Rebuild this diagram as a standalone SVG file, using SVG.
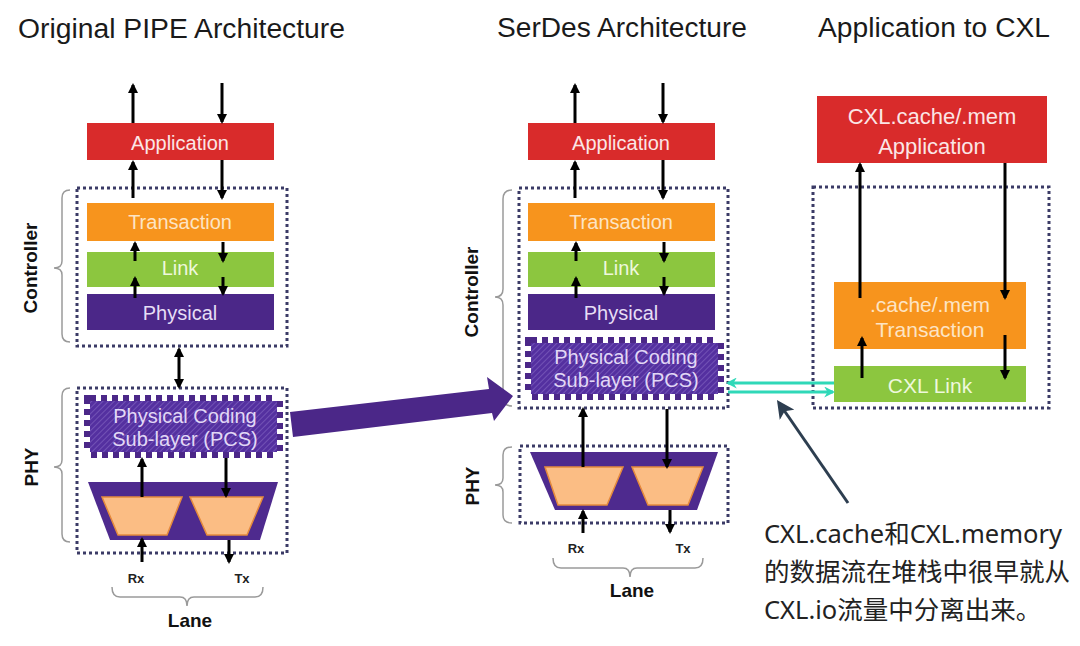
<svg xmlns="http://www.w3.org/2000/svg" width="1080" height="646" viewBox="0 0 1080 646">
<defs>
<style>
.title{font-family:"Liberation Sans",Arial,sans-serif;font-size:27px;fill:#1a1a1a}
.lbl{font-family:"Liberation Sans",Arial,sans-serif;font-size:20px;text-anchor:middle}
.side{font-family:"Liberation Sans",Arial,sans-serif;font-size:19px;font-weight:bold;fill:#111;text-anchor:middle}
.small{font-family:"Liberation Sans",Arial,sans-serif;font-size:13px;font-weight:bold;fill:#222;text-anchor:middle}
.note{font-family:"Noto Sans","Noto Sans CJK SC",sans-serif;font-size:25.5px;fill:#222}
.dot{fill:none;stroke:#3b3b66;stroke-width:3;stroke-dasharray:3 3}
.brace{fill:none;stroke:#9a9a9a;stroke-width:1.5}
.arr{stroke:#000;stroke-width:3;fill:none;marker-end:url(#ah)}
.red{fill:#d92b2b}
.org{fill:#f7941d}
.grn{fill:#8cc63f}
.pur{fill:#4b2788}
.teal{stroke:#2fd8b8;stroke-width:3;fill:none;marker-end:url(#th)}
.pcsEdge{fill:none;stroke:#4b2788;stroke-width:12;stroke-dasharray:6 5}
.pcsText{fill:#e2d8f6}
.trap{fill:#4e2a8e}
.peach{fill:#fbbd84;stroke:#e58a3c;stroke-width:1.5}
</style>
<marker id="ah" viewBox="0 0 10 10" refX="8" refY="5" markerWidth="10" markerHeight="10" markerUnits="userSpaceOnUse" orient="auto-start-reverse"><path d="M0,0 L10,5 L0,10 z" fill="#000"/></marker>
<marker id="th" viewBox="0 0 10 10" refX="8" refY="5" markerWidth="11" markerHeight="11" markerUnits="userSpaceOnUse" orient="auto"><path d="M0,0 L10,5 L0,10 L3,5 z" fill="#2fd8b8"/></marker>
<marker id="nh" viewBox="0 0 10 10" refX="8" refY="5" markerWidth="18" markerHeight="18" markerUnits="userSpaceOnUse" orient="auto"><path d="M0,0 L10,5 L0,10 L2.5,5 z" fill="#2d3e50"/></marker>
<pattern id="hatch" patternUnits="userSpaceOnUse" width="4" height="4" patternTransform="rotate(45)"><rect width="4" height="4" fill="#5430a0"/><line x1="0" y1="0" x2="0" y2="4" stroke="#8669c4" stroke-width="1.2"/></pattern>
</defs>
<rect width="1080" height="646" fill="#fff"/>

<g id="titles">
<text class="title" x="18" y="38" textLength="327" lengthAdjust="spacingAndGlyphs">Original PIPE Architecture</text>
<text class="title" x="497" y="37" textLength="250" lengthAdjust="spacingAndGlyphs">SerDes Architecture</text>
<text class="title" x="818" y="37" textLength="232" lengthAdjust="spacingAndGlyphs">Application to CXL</text>
</g>

<!-- LEFT COLUMN -->
<g id="left-controller-box"><rect class="dot" x="77" y="188" width="210" height="158"/></g>
<g id="left-phy-box"><rect class="dot" x="77" y="388" width="210" height="165"/></g>
<g id="left-application"><rect class="red" x="87" y="123" width="187" height="37"/><text class="lbl" x="180" y="150" fill="#fbe6e6">Application</text></g>
<g id="left-transaction"><rect class="org" x="87" y="203" width="187" height="38"/><text class="lbl" x="180" y="229" fill="#fde4c4">Transaction</text></g>
<g id="left-link"><rect class="grn" x="87" y="252" width="187" height="35"/><text class="lbl" x="180" y="275" fill="#eef8dc">Link</text></g>
<g id="left-physical"><rect class="pur" x="87" y="294" width="187" height="36"/><text class="lbl" x="180" y="320" fill="#e6def5">Physical</text></g>
<g id="left-pcs">
<rect class="pcsEdge" x="90" y="401" width="187" height="51"/>
<rect x="90" y="401" width="187" height="51" fill="url(#hatch)"/>
<text class="lbl pcsText" x="185" y="423">Physical Coding</text>
<text class="lbl pcsText" x="185" y="446">Sub-layer (PCS)</text>
</g>
<g id="left-serdes">
<polygon class="trap" points="88,482 278,482 260,540 110,540"/>
<polygon class="peach" points="102,497 182,497 167,535 118,535"/>
<polygon class="peach" points="190,497 263,497 247,535 207,535"/>
</g>
<g id="left-labels">
<text class="side" transform="translate(37,268) rotate(-90)">Controller</text>
<text class="side" transform="translate(38,467) rotate(-90)">PHY</text>
<text class="small" x="136" y="583">Rx</text>
<text class="small" x="242" y="583">Tx</text>
<text class="side" x="190" y="627">Lane</text>
<path class="brace" d="M70,190 Q62,190 62,198 L62,261 Q62,268 54,268 Q62,268 62,275 L62,334 Q62,342 70,342"/>
<path class="brace" d="M70,388 Q62,388 62,396 L62,460 Q62,467 54,467 Q62,467 62,474 L62,534 Q62,542 70,542"/>
<path class="brace" d="M112,587 Q112,597 120,597 L180,597 Q187,597 187,606 Q187,597 194,597 L255,597 Q263,597 263,587"/>
</g>

<!-- MIDDLE COLUMN -->
<g id="mid-controller-box"><rect class="dot" x="519" y="188" width="209" height="220"/></g>
<g id="mid-phy-box"><rect class="dot" x="520" y="446" width="208" height="77"/></g>
<g id="mid-application"><rect class="red" x="528" y="123" width="187" height="37"/><text class="lbl" x="621" y="150" fill="#fbe6e6">Application</text></g>
<g id="mid-transaction"><rect class="org" x="528" y="203" width="187" height="38"/><text class="lbl" x="621" y="229" fill="#fde4c4">Transaction</text></g>
<g id="mid-link"><rect class="grn" x="528" y="252" width="187" height="35"/><text class="lbl" x="621" y="275" fill="#eef8dc">Link</text></g>
<g id="mid-physical"><rect class="pur" x="528" y="294" width="187" height="36"/><text class="lbl" x="621" y="320" fill="#e6def5">Physical</text></g>
<g id="mid-pcs">
<rect class="pcsEdge" x="531" y="343" width="187" height="51"/>
<rect x="531" y="343" width="187" height="51" fill="url(#hatch)"/>
<text class="lbl pcsText" x="626" y="364">Physical Coding</text>
<text class="lbl pcsText" x="626" y="387">Sub-layer (PCS)</text>
</g>
<g id="mid-serdes">
<polygon class="trap" points="530,452 718,452 697,510 555,510"/>
<polygon class="peach" points="545,467 623,467 607,505 558,505"/>
<polygon class="peach" points="632,467 703,467 688,505 648,505"/>
</g>
<g id="mid-labels">
<text class="side" transform="translate(478,292) rotate(-90)">Controller</text>
<text class="side" transform="translate(479,486) rotate(-90)">PHY</text>
<text class="small" x="576" y="553">Rx</text>
<text class="small" x="683" y="553">Tx</text>
<text class="side" x="632" y="597">Lane</text>
<path class="brace" d="M512,190 Q503,190 503,199 L503,289 Q503,297 495,297 Q503,297 503,305 L503,397 Q503,406 512,406"/>
<path class="brace" d="M512,447 Q503,447 503,455 L503,478 Q503,485 495,485 Q503,485 503,492 L503,515 Q503,523 512,523"/>
<path class="brace" d="M553,558 Q553,568 561,568 L623,568 Q630,568 630,577 Q630,568 637,568 L695,568 Q703,568 703,558"/>
</g>

<!-- RIGHT COLUMN -->
<g id="cxl-box"><rect class="dot" x="813" y="187" width="236" height="221"/></g>
<g id="cxl-application"><rect class="red" x="817" y="96" width="230" height="67"/>
<text class="lbl" x="932" y="124" fill="#fbe6e6" style="font-size:22px">CXL.cache/.mem</text>
<text class="lbl" x="932" y="154" fill="#fbe6e6" style="font-size:22px">Application</text></g>
<g id="cxl-transaction"><rect class="org" x="834" y="282" width="192" height="67"/>
<text class="lbl" x="930" y="312" fill="#fde4c4" style="font-size:21px">.cache/.mem</text>
<text class="lbl" x="930" y="337" fill="#fde4c4" style="font-size:21px">Transaction</text></g>
<g id="cxl-link"><rect class="grn" x="834" y="366" width="192" height="36"/>
<text class="lbl" x="930" y="393" fill="#eef8dc" style="font-size:21px">CXL Link</text></g>

<g id="note">
<text class="note" x="764" y="543">CXL.cache和CXL.memory</text>
<text class="note" x="764" y="581">的数据流在堆栈中很早就从</text>
<text class="note" x="764" y="619">CXL.io流量中分离出来。</text>
</g>

<g id="connectors">
<line class="arr" x1="133" y1="123" x2="133" y2="85"/>
<line class="arr" x1="222" y1="83" x2="222" y2="122"/>
<line class="arr" x1="133" y1="198" x2="133" y2="162"/>
<line class="arr" x1="222" y1="160" x2="222" y2="198"/>
<line class="arr" x1="135" y1="261" x2="135" y2="243"/>
<line class="arr" x1="223" y1="242" x2="223" y2="261"/>
<line class="arr" x1="135" y1="298" x2="135" y2="278"/>
<line class="arr" x1="223" y1="277" x2="223" y2="294"/>
<line class="arr" x1="179" y1="349" x2="179" y2="387" style="marker-start:url(#ah)"/>
<line class="arr" x1="142" y1="497" x2="142" y2="459"/>
<line class="arr" x1="226" y1="458" x2="226" y2="496"/>
<line class="arr" x1="142" y1="562" x2="142" y2="539"/>
<line class="arr" x1="229" y1="540" x2="229" y2="562"/>

<line class="arr" x1="575" y1="123" x2="575" y2="85"/>
<line class="arr" x1="663" y1="83" x2="663" y2="122"/>
<line class="arr" x1="575" y1="198" x2="575" y2="162"/>
<line class="arr" x1="663" y1="160" x2="663" y2="198"/>
<line class="arr" x1="576" y1="261" x2="576" y2="243"/>
<line class="arr" x1="664" y1="242" x2="664" y2="261"/>
<line class="arr" x1="576" y1="298" x2="576" y2="278"/>
<line class="arr" x1="664" y1="277" x2="664" y2="294"/>
<line class="arr" x1="583" y1="467" x2="583" y2="409"/>
<line class="arr" x1="667" y1="409" x2="667" y2="467"/>
<line class="arr" x1="583" y1="533" x2="583" y2="511"/>
<line class="arr" x1="670" y1="510" x2="670" y2="532"/>

<line class="arr" x1="860" y1="298" x2="860" y2="164"/>
<line class="arr" x1="1005" y1="163" x2="1005" y2="298"/>
<line class="arr" x1="862" y1="378" x2="862" y2="338"/>
<line class="arr" x1="1005" y1="335" x2="1005" y2="378"/>

<line class="teal" x1="834" y1="383" x2="728" y2="383"/>
<line class="teal" x1="728" y1="392" x2="833" y2="392"/>

<polygon fill="#4b2788" points="290,412 489,389 487,377 513,396 494,421 492,413 293,437"/>

<line x1="848" y1="503" x2="779" y2="403" stroke="#2d3e50" stroke-width="3" marker-end="url(#nh)"/>
</g>
</svg>
